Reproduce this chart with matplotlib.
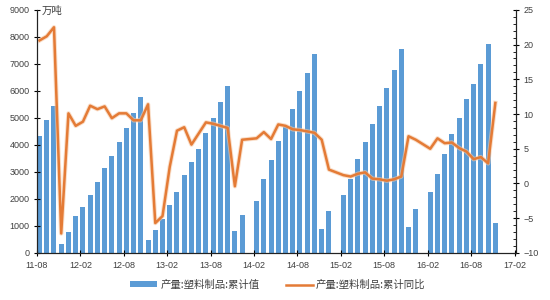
import matplotlib
matplotlib.use("Agg")
import matplotlib.pyplot as plt
import numpy as np

plt.rcParams['font.family'] = ['Liberation Sans', 'Noto Sans CJK SC', 'DejaVu Sans']

# monthly data, 2011-08 .. 2016-11 (January gaps are NaN)
nan = np.nan
output_cum = [4330, 4920, 5450, 320, 780, 1350, 1700, 2130, 2610, 3130, 3600, 4090,
              4610, 5180, 5760, 460, 840, 1260, 1760, 2240, 2900, 3350, 3830, 4450,
              5000, 5580, 6180, 820, 1390, nan, 1920, 2740, 3430, 4140, 4650, 5340,
              5990, 6650, 7380, 900, 1550, nan, 2130, 2740, 3470, 4110, 4760, 5430,
              6110, 6780, 7570, 970, 1640, nan, 2250, 2920, 3650, 4400, 4980, 5690,
              6260, 7000, 7730, 1120]
yoy_cum = [20.6, 21.2, 22.5, -7.2, 10.1, 8.3, 8.9, 11.2, 10.7, 11.1, 9.4, 10.1,
           10.1, 9.1, 9.1, 11.4, -5.7, -4.7, 2.4, 7.6, 8.1, 5.6, 7.2, 8.8,
           8.6, 8.3, 8.0, -0.4, 6.3, nan, 6.5, 7.4, 6.4, 8.5, 8.3, 7.8,
           7.7, 7.5, 7.3, 6.3, 2.0, nan, 1.2, 1.0, 1.4, 1.6, 0.7, 0.6,
           0.4, 0.6, 1.0, 6.8, 6.3, nan, 5.0, 6.5, 5.8, 5.9, 5.1, 4.6,
           3.5, 3.8, 2.9, 11.6]
tick_labels = ['11-08', '12-02', '12-08', '13-02', '13-08', '14-02', '14-08',
               '15-02', '15-08', '16-02', '16-08', '17-02']

blue = '#5B9BD5'
orange = '#E47B36'
txt = '#404040'

fig = plt.figure(figsize=(5.5, 3), dpi=100)
ax = fig.add_axes([0.0673, 0.157, 0.8709, 0.81])
ax2 = ax.twinx()

x = np.arange(len(output_cum))
bw = 0.69
ax.bar(x, output_cum, width=bw, align='edge', color=blue, label='产量:塑料制品:累计值')

yoy = np.array(yoy_cum)
ok = ~np.isnan(yoy)
xl = x[ok] + bw / 2
ax2.plot(xl, yoy[ok], color='#F6C9A6', lw=3.2, alpha=0.6, solid_joinstyle='round')
ax2.plot(xl, yoy[ok], color=orange, lw=1.8, solid_joinstyle='round', label='产量:塑料制品:累计同比')

ax.set_xlim(0, 66.2)
ax.set_ylim(0, 9000)
ax2.set_ylim(-10, 25)
ax.set_yticks(np.arange(0, 9001, 1000))
ax2.set_yticks(np.arange(-10, 26, 5))
ax2.set_yticks(np.arange(-10, 26, 1), minor=True)
ax.set_xticks(np.arange(0, 67, 6))
ax.set_xticklabels(tick_labels)

for a in (ax, ax2):
    a.spines['top'].set_visible(False)
    for s in a.spines.values():
        s.set_color('#222222')
        s.set_linewidth(0.8)
ax.tick_params(axis='both', direction='inout', length=5, width=0.8, labelsize=6.5,
               labelcolor=txt, pad=3)
ax2.tick_params(axis='y', which='major', direction='inout', length=5, width=0.8,
                labelsize=6.5, labelcolor=txt, pad=3)
ax2.tick_params(axis='y', which='minor', direction='in', length=2, width=0.6)

fig.text(0.076, 0.963, '万吨', fontsize=7.5, color=txt, va='center',
         family=['Noto Sans CJK SC', 'DejaVu Sans'])

h1, l1 = ax.get_legend_handles_labels()
h2, l2 = ax2.get_legend_handles_labels()
fig.legend(h1 + h2[-1:], l1 + l2[-1:], loc='center', bbox_to_anchor=(0.505, 0.05),
           ncol=2, frameon=False, prop={'family': ['Noto Sans CJK SC', 'DejaVu Sans'], 'size': 7.5},
           handlelength=2.6, handleheight=0.5, columnspacing=2.5, handletextpad=0.3, labelcolor=txt)

fig.savefig('out.png', dpi=100)
